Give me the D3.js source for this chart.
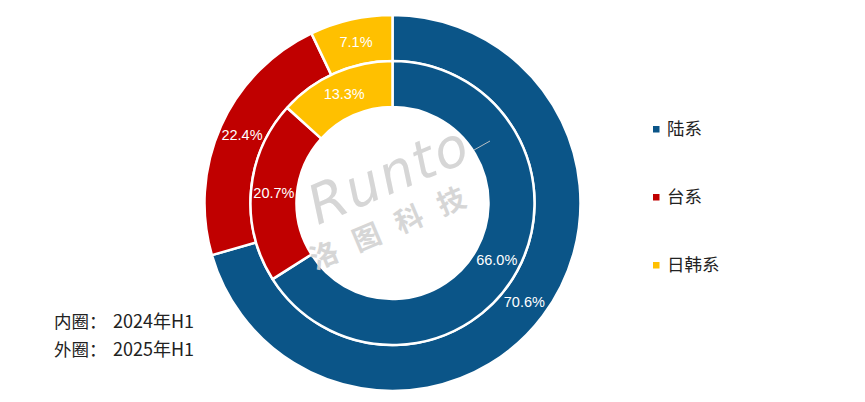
<!DOCTYPE html>
<html><head><meta charset="utf-8">
<script src="https://cdn.jsdelivr.net/npm/d3@7"></script>
<style>
html,body{margin:0;padding:0;background:#fff;}
svg{display:block;}
</style></head>
<body>
<script>
const categories = ["陆系", "台系", "日韩系"];
const inner2024 = [66.0, 20.7, 13.3];
const outer2025 = [70.6, 22.4, 7.1];
const colors = ["#0b5588", "#c00000", "#ffc000"];
const noteLabels = ["内圈：", "外圈："];
const noteValues = ["2024年H1", "2025年H1"];

const W = 865, H = 402;
const cx = 392.5, cy = 203;
const r0 = 96, r1 = 142, r2 = 188;

const svg = d3.select("body").append("svg").attr("width", W).attr("height", H);

const color = d3.scaleOrdinal().domain(categories).range(colors);
const pie = d3.pie().sort(null).value(d => d.v);

function ring(vals, ri, ro) {
  const data = pie(categories.map((c, i) => ({c, v: vals[i]})));
  const arc = d3.arc().innerRadius(ri).outerRadius(ro);
  const g = svg.append("g").attr("transform", `translate(${cx},${cy})`);
  g.selectAll("path").data(data).join("path")
    .attr("d", arc).attr("fill", d => color(d.data.c))
    .attr("stroke", "#fff").attr("stroke-width", 2.5).attr("stroke-linejoin", "round");
  g.selectAll("text").data(data).join("text")
    .attr("transform", d => `translate(${arc.centroid(d)})`)
    .attr("text-anchor", "middle").attr("dy", "0.35em")
    .attr("fill", "#fff").attr("font-family", "Liberation Sans, Arial, sans-serif")
    .attr("font-size", 14.5)
    .text(d => d.data.v.toFixed(1) + "%");
}
ring(outer2025, r1, r2);
ring(inner2024, r0, r1);

// watermark
const wm = svg.append("g").attr("fill", "#d2d2d2").attr("opacity", 0.9);
wm.append("text").attr("transform", "translate(396,192) rotate(-23)")
  .attr("text-anchor", "middle").attr("font-family", "DejaVu Sans, sans-serif")
  .attr("font-style", "italic").attr("font-size", 54).attr("letter-spacing", 2)
  .text("Runto");
wm.append("text").attr("transform", "translate(400,234) rotate(-23)")
  .attr("text-anchor", "middle").attr("font-family", "Noto Sans CJK SC, sans-serif")
  .attr("font-weight", "bold").attr("font-size", 28).attr("letter-spacing", 18)
  .text("洛图科技");
wm.append("line").attr("x1", 474).attr("y1", 150).attr("x2", 490).attr("y2", 141)
  .attr("stroke", "#cccccc").attr("stroke-width", 1);

// legend
const lg = svg.append("g");
const ly = d3.scalePoint().domain(categories).range([129, 265]);
categories.forEach(c => {
  lg.append("rect").attr("x", 653).attr("y", ly(c) - 3).attr("width", 6.5).attr("height", 6.5).attr("fill", color(c));
  lg.append("text").attr("x", 667).attr("y", ly(c)).attr("dy", "0.35em")
    .attr("font-family", "Noto Sans CJK SC, sans-serif").attr("font-size", 17.5).attr("fill", "#222")
    .text(c);
});

// notes
noteLabels.forEach((t, i) => {
  const tx = svg.append("text").attr("x", 54).attr("y", 322 + i * 28).attr("dy", "0.35em")
    .attr("font-family", "Noto Sans CJK SC, sans-serif").attr("font-size", 17.5).attr("fill", "#222");
  tx.append("tspan").text(t);
  tx.append("tspan").attr("x", 113).attr("font-size", 18).text(noteValues[i]);
});
</script>
</body></html>
